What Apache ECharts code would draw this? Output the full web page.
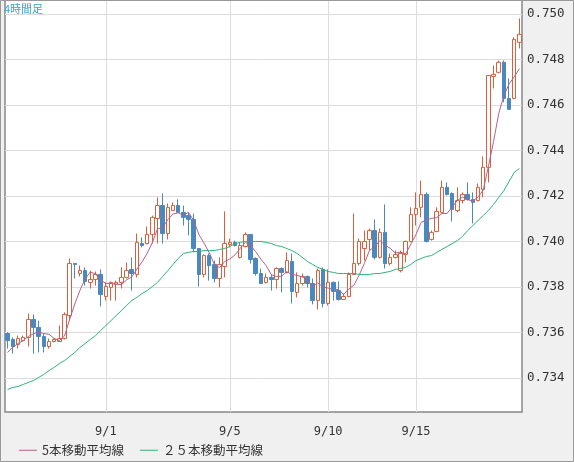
<!DOCTYPE html>
<html><head><meta charset="utf-8">
<script src="https://cdn.jsdelivr.net/npm/echarts@6/dist/echarts.min.js"></script>
<style>html,body{margin:0;padding:0;background:#f0f0f0}#c{width:574px;height:462px}</style>
</head><body><div id="c"></div>
<script>
// [open, close, low, high]
const ohlc = [
[0.73595,0.73564,0.73529,0.73600],[0.73569,0.73538,0.73507,0.73578],[0.73547,0.73573,0.73529,0.73586],[0.73564,0.73578,0.73560,0.73586],
[0.73578,0.73657,0.73538,0.73683],[0.73657,0.73622,0.73507,0.73679],[0.73622,0.73582,0.73512,0.73652],[0.73582,0.73538,0.73512,0.73595],
[0.73538,0.73560,0.73529,0.73573],[0.73560,0.73569,0.73556,0.73573],[0.73560,0.73573,0.73560,0.73630],[0.73573,0.73679,0.73569,0.73688],
[0.73674,0.73903,0.73652,0.73925],[0.73903,0.73899,0.73837,0.73903],[0.73859,0.73872,0.73846,0.73894],[0.73872,0.73824,0.73806,0.73886],
[0.73820,0.73833,0.73793,0.73872],[0.73833,0.73855,0.73806,0.73868],[0.73855,0.73767,0.73714,0.73877],[0.73758,0.73802,0.73740,0.73820],
[0.73798,0.73820,0.73740,0.73824],[0.73811,0.73820,0.73740,0.73828],[0.73820,0.73842,0.73793,0.73886],[0.73842,0.73872,0.73837,0.73908],
[0.73877,0.73859,0.73784,0.73930],[0.73855,0.73996,0.73842,0.74035],[0.73991,0.73982,0.73974,0.74018],[0.73991,0.74031,0.73987,0.74066],
[0.74031,0.74106,0.73991,0.74114],[0.74101,0.74158,0.73991,0.74194],[0.74158,0.74035,0.73991,0.74211],[0.74035,0.74150,0.74009,0.74167],
[0.74136,0.74158,0.74136,0.74172],[0.74158,0.74128,0.74128,0.74185],[0.74128,0.74106,0.74070,0.74158],[0.74114,0.74097,0.74026,0.74128],
[0.74097,0.73969,0.73952,0.74123],[0.73969,0.73855,0.73802,0.73969],[0.73855,0.73938,0.73842,0.73943],[0.73938,0.73894,0.73828,0.73947],
[0.73899,0.73837,0.73820,0.73916],[0.73837,0.73899,0.73798,0.73930],[0.73890,0.73991,0.73842,0.74132],[0.73987,0.73996,0.73974,0.74013],
[0.73996,0.73982,0.73978,0.74004],[0.73930,0.73982,0.73925,0.73996],[0.73978,0.74031,0.73974,0.74040],[0.74031,0.73921,0.73903,0.74031],
[0.73925,0.73859,0.73850,0.73930],[0.73859,0.73815,0.73815,0.73881],[0.73820,0.73842,0.73815,0.73859],[0.73842,0.73833,0.73784,0.73855],
[0.73833,0.73881,0.73793,0.73886],[0.73881,0.73864,0.73776,0.73886],[0.73864,0.73916,0.73859,0.73952],[0.73912,0.73780,0.73727,0.73947],
[0.73776,0.73815,0.73754,0.73864],[0.73815,0.73846,0.73806,0.73859],[0.73846,0.73815,0.73798,0.73850],[0.73815,0.73740,0.73723,0.73837],
[0.73740,0.73872,0.73701,0.73881],[0.73877,0.73727,0.73710,0.73886],[0.73727,0.73820,0.73718,0.73877],[0.73820,0.73780,0.73740,0.73824],
[0.73784,0.73745,0.73740,0.73824],[0.73745,0.73758,0.73745,0.73771],[0.73758,0.73855,0.73754,0.73864],[0.73855,0.73903,0.73855,0.74123],
[0.73903,0.74000,0.73894,0.74013],[0.73969,0.74000,0.73916,0.74048],[0.74009,0.74048,0.73960,0.74057],[0.74048,0.73930,0.73921,0.74097],
[0.73930,0.74040,0.73925,0.74057],[0.74040,0.73903,0.73881,0.74163],[0.73903,0.73930,0.73894,0.73947],[0.73930,0.73943,0.73925,0.73960],
[0.73872,0.73947,0.73864,0.73960],[0.73943,0.74000,0.73908,0.74004],[0.74000,0.74119,0.73996,0.74150],[0.74119,0.74145,0.74070,0.74216],
[0.74150,0.74207,0.74106,0.74268],[0.74207,0.74000,0.73996,0.74216],[0.74009,0.74040,0.74004,0.74048],[0.74044,0.74132,0.74040,0.74150],
[0.74128,0.74238,0.74123,0.74268],[0.74238,0.74207,0.74202,0.74260],[0.74211,0.74141,0.74088,0.74216],[0.74136,0.74180,0.74128,0.74238],
[0.74180,0.74207,0.74167,0.74216],[0.74207,0.74185,0.74180,0.74260],[0.74185,0.74172,0.74079,0.74216],[0.74180,0.74238,0.74176,0.74255],
[0.74229,0.74326,0.74194,0.74374],[0.74326,0.74730,0.74260,0.74730],[0.74726,0.74735,0.74673,0.74774],[0.74744,0.74788,0.74739,0.74796],
[0.74788,0.74629,0.74612,0.74796],[0.74629,0.74581,0.74581,0.74717],[0.74629,0.74889,0.74625,0.74898],[0.74876,0.74911,0.74849,0.74981]
];
// 5-period MA for the first 4 bars (history not shown)
const ma5Lead = [0.73512,0.73534,0.73551,0.73564];
// 25-period MA
const ma25 = [
0.73349,0.73358,0.73362,0.73371,0.73380,0.73388,0.73402,0.73415,0.73432,0.73446,
0.73463,0.73476,0.73494,0.73512,0.73534,0.73551,0.73569,0.73586,0.73608,0.73630,
0.73652,0.73674,0.73696,0.73718,0.73740,0.73754,0.73771,0.73784,0.73802,0.73820,
0.73846,0.73872,0.73899,0.73925,0.73947,0.73952,0.73956,0.73956,0.73960,0.73960,
0.73960,0.73965,0.73969,0.73978,0.73991,0.73996,0.74000,0.74000,0.74000,0.74000,
0.73996,0.73991,0.73982,0.73978,0.73969,0.73960,0.73947,0.73930,0.73912,0.73899,
0.73886,0.73877,0.73868,0.73864,0.73859,0.73859,0.73859,0.73859,0.73855,0.73855,
0.73855,0.73859,0.73859,0.73864,0.73868,0.73877,0.73881,0.73886,0.73899,0.73916,
0.73925,0.73934,0.73938,0.73952,0.73965,0.73978,0.73991,0.74004,0.74022,0.74048,
0.74070,0.74092,0.74114,0.74136,0.74163,0.74194,0.74224,0.74264,0.74304,0.74321
];
const tickLabels = {19:'9/1', 43:'9/5', 62:'9/10', 79:'9/15'};
const yTickValues = [0.734,0.736,0.738,0.740,0.742,0.744,0.746,0.748,0.750];
const categories = ohlc.map((d,i)=>'c'+i);
const yRange = {min:0.73250, max:0.75062};

const closes = ohlc.map(d=>d[1]);
const ma5 = closes.map((c,i)=> i<4 ? ma5Lead[i] : +(closes.slice(i-4,i+1).reduce((a,b)=>a+b,0)/5).toFixed(5));

const chart = echarts.init(document.getElementById('c'));
const up='#d9603b', down='#4a88c0';
const gridLine = {color:'#dcdcdc', type:'solid', width:1};
chart.setOption({
  backgroundColor:'#f0f0f0',
  animation:false,
  grid:{left:5, right:52, top:0, bottom:50, show:true, backgroundColor:'#fff', borderColor:'#888', borderWidth:1.5},
  legend:{
    left:14, top:439, itemWidth:18, itemHeight:1, itemGap:16, icon:'rect',
    textStyle:{fontFamily:'Noto Sans CJK JP', fontSize:12.5, color:'#333'},
    data:['5本移動平均線','２５本移動平均線']
  },
  xAxis:{
    type:'category', data:categories, boundaryGap:true,
    axisLine:{show:false}, axisTick:{show:false}, splitLine:{show:false},
    axisLabel:{interval:0, margin:14, fontFamily:'DejaVu Sans Mono', fontSize:12, color:'#333',
      formatter:(v,i)=>tickLabels[i]||''}
  },
  yAxis:{
    type:'value', position:'right', min:yRange.min, max:yRange.max,
    axisLine:{show:false}, axisTick:{show:false}, splitLine:{show:false}, axisLabel:{show:false}
  },
  graphic:[
    {type:'rect', z:101, silent:true, shape:{x:0.5,y:0.5,width:573,height:461}, style:{fill:'none',stroke:'#999',lineWidth:1}},
    {type:'text', z:101, left:4, top:3, style:{text:'4時間足', fill:'#3aa0d0', font:'11px "Noto Sans CJK JP"'}}
  ],
  series:[
    {type:'candlestick', data:ohlc, barWidth:4, z:3,
     itemStyle:{color:'#ffffff', color0:down, borderColor:up, borderColor0:down, borderWidth:1},
     markLine:{symbol:'none', silent:true, z:1, precision:4,
       lineStyle:gridLine,
       data:[
         ...Object.keys(tickLabels).map(k=>({xAxis:+k, label:{show:false}})),
         ...yTickValues.map(v=>({yAxis:v, label:{show:true, position:'end', distance:5,
            formatter:v.toFixed(3), fontFamily:'DejaVu Sans Mono', fontSize:12.5, color:'#333'}}))
       ]}
    },
    {name:'5本移動平均線', type:'line', data:ma5, showSymbol:false, symbol:'none', z:4,
     lineStyle:{color:'#b0648c', width:1}, itemStyle:{color:'#b0648c'}},
    {name:'２５本移動平均線', type:'line', data:ma25, showSymbol:false, symbol:'none', z:4,
     lineStyle:{color:'#2db37a', width:1}, itemStyle:{color:'#2db37a'}}
  ]
});
</script></body></html>
